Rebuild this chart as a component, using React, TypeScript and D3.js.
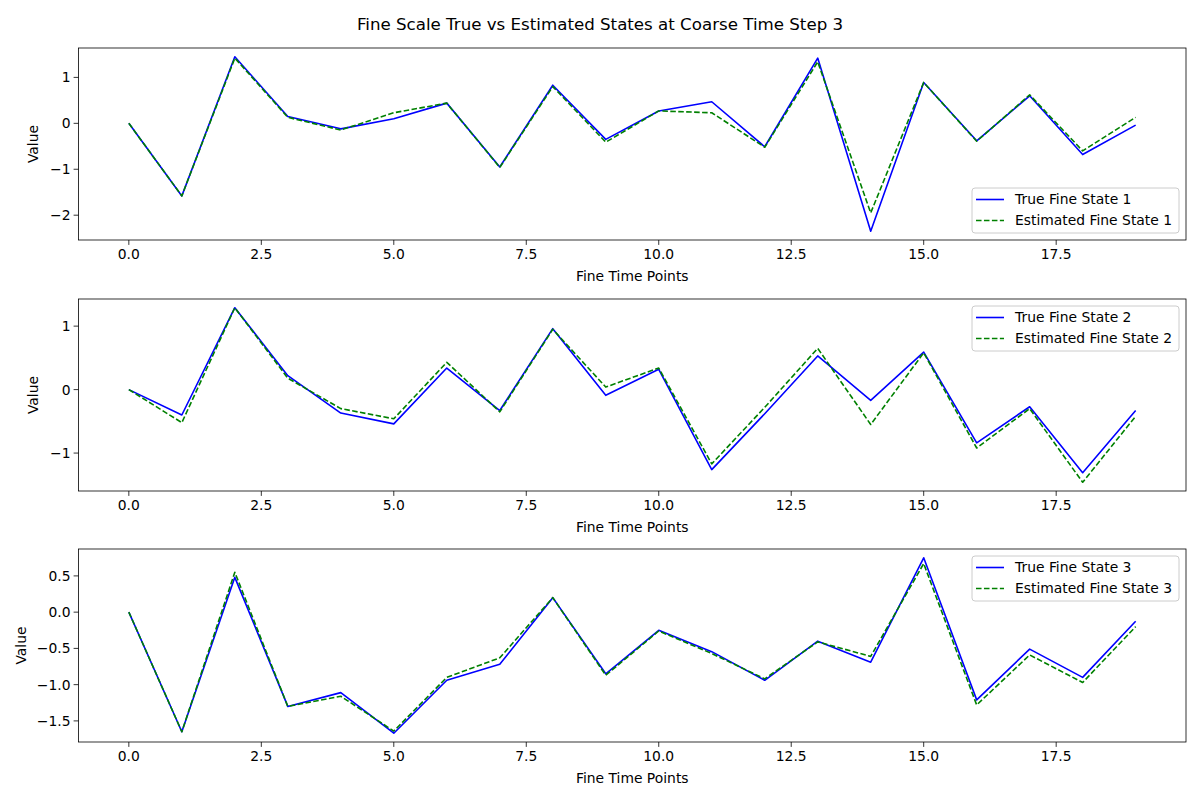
import React from "react";
import * as d3 from "d3";

const timePoints = d3.range(0, 20);

const true1 = [0, -1.58, 1.45, 0.15, -0.12, 0.10, 0.44, -0.95, 0.83, -0.35, 0.27, 0.47, -0.51, 1.42, -2.35, 0.89, -0.38, 0.60, -0.68, -0.04];
const est1 = [0, -1.58, 1.42, 0.13, -0.145, 0.23, 0.44, -0.96, 0.80, -0.41, 0.27, 0.23, -0.52, 1.34, -1.95, 0.89, -0.39, 0.62, -0.60, 0.13];

const true2 = [0, -0.40, 1.29, 0.22, -0.37, -0.54, 0.34, -0.33, 0.96, -0.09, 0.32, -1.26, -0.38, 0.53, -0.17, 0.59, -0.84, -0.27, -1.31, -0.33];
const est2 = [0, -0.52, 1.29, 0.18, -0.30, -0.46, 0.43, -0.35, 0.95, 0.04, 0.34, -1.17, -0.28, 0.65, -0.55, 0.58, -0.92, -0.30, -1.46, -0.42];

const true3 = [0, -1.65, 0.48, -1.30, -1.11, -1.67, -0.94, -0.72, 0.20, -0.85, -0.25, -0.545, -0.94, -0.40, -0.69, 0.75, -1.21, -0.51, -0.90, -0.125];
const est3 = [0, -1.65, 0.55, -1.30, -1.16, -1.64, -0.90, -0.63, 0.20, -0.87, -0.26, -0.57, -0.92, -0.41, -0.61, 0.67, -1.28, -0.59, -0.97, -0.20];

const xTicks = [0, 2.5, 5, 7.5, 10, 12.5, 15, 17.5];
const yTicks1 = [-2, -1, 0, 1];
const yTicks2 = [-1, 0, 1];
const yTicks3 = [-1.5, -1.0, -0.5, 0.0, 0.5];

const title = "Fine Scale True vs Estimated States at Coarse Time Step 3";

const panels = [
  { tr: true1, es: est1, yTicks: yTicks1, fmt: (v: number) => d3.format("d")(v), top: 48, bottom: 240, legend: "lower", n: 1 },
  { tr: true2, es: est2, yTicks: yTicks2, fmt: (v: number) => d3.format("d")(v), top: 299, bottom: 491, legend: "upper", n: 2 },
  { tr: true3, es: est3, yTicks: yTicks3, fmt: (v: number) => d3.format(".1f")(v), top: 549, bottom: 742, legend: "upper", n: 3 },
];

const FONT = "DejaVu Sans, sans-serif";
const FS = 13.89;
const LEFT = 78.5;
const RIGHT = 1186;

function fmtMinus(s: string) {
  return s.replace("-", "\u2212");
}

function Panel({ p }: { p: any }) {
  const all = [...p.tr, ...p.es];
  const mn = d3.min(all) as number;
  const mx = d3.max(all) as number;
  const pad = (mx - mn) * 0.05;
  const x = d3.scaleLinear().domain([-0.95, 19.95]).range([LEFT, RIGHT]);
  const y = d3.scaleLinear().domain([mn - pad, mx + pad]).range([p.bottom, p.top]);
  const line = d3.line<number>().x((_, i) => x(timePoints[i])).y((d) => y(d));
  const lgW = 207;
  const lgH = 45;
  const lgX = RIGHT - 8 - lgW + 1;
  const lgY = p.legend === "lower" ? p.bottom - 7 - lgH : p.top + 7;
  return (
    <g>
      <defs>
        <clipPath id={`clip${p.n}`}>
          <rect x={LEFT} y={p.top} width={RIGHT - LEFT} height={p.bottom - p.top} />
        </clipPath>
      </defs>
      <g clipPath={`url(#clip${p.n})`}>
        <path d={line(p.tr) || ""} fill="none" stroke="#0000ff" strokeWidth={1.6} strokeLinejoin="round" />
        <path d={line(p.es) || ""} fill="none" stroke="#008000" strokeWidth={1.6} strokeDasharray="5.55,2.4" strokeLinejoin="round" />
      </g>
      <rect x={LEFT} y={p.top} width={RIGHT - LEFT} height={p.bottom - p.top} fill="none" stroke="#000" strokeWidth={0.8} />
      {xTicks.map((t) => (
        <g key={`x${t}`}>
          <line x1={x(t)} x2={x(t)} y1={p.bottom} y2={p.bottom + 4.9} stroke="#000" strokeWidth={0.8} />
          <text x={x(t)} y={p.bottom + 18.5} textAnchor="middle" fontSize={FS} fontFamily={FONT} fill="#000">
            {d3.format(".1f")(t)}
          </text>
        </g>
      ))}
      {p.yTicks.map((t: number) => (
        <g key={`y${t}`}>
          <line x1={LEFT - 4.9} x2={LEFT} y1={y(t)} y2={y(t)} stroke="#000" strokeWidth={0.8} />
          <text x={LEFT - 8} y={y(t) + 5} textAnchor="end" fontSize={FS} fontFamily={FONT} fill="#000">
            {fmtMinus(p.fmt(t))}
          </text>
        </g>
      ))}
      <text x={(LEFT + RIGHT) / 2} y={p.bottom + 41} textAnchor="middle" fontSize={FS} fontFamily={FONT} fill="#000">
        Fine Time Points
      </text>
      <text
        transform={`translate(${p.n === 3 ? 26 : 38},${(p.top + p.bottom) / 2}) rotate(-90)`}
        textAnchor="middle"
        fontSize={FS}
        fontFamily={FONT}
        fill="#000"
      >
        Value
      </text>
      <g>
        <rect x={lgX} y={lgY} width={lgW} height={lgH} rx={3} fill="#fff" fillOpacity={0.8} stroke="#cccccc" strokeWidth={1} />
        <line x1={lgX + 4} x2={lgX + 32} y1={lgY + 11.5} y2={lgY + 11.5} stroke="#0000ff" strokeWidth={1.6} />
        <text x={lgX + 43} y={lgY + 16.3} fontSize={FS} fontFamily={FONT} fill="#000">
          {`True Fine State ${p.n}`}
        </text>
        <line x1={lgX + 4} x2={lgX + 32} y1={lgY + 32.5} y2={lgY + 32.5} stroke="#008000" strokeWidth={1.6} strokeDasharray="5.55,2.4" />
        <text x={lgX + 43} y={lgY + 37.3} fontSize={FS} fontFamily={FONT} fill="#000">
          {`Estimated Fine State ${p.n}`}
        </text>
      </g>
    </g>
  );
}

export default function App() {
  return (
    <svg width={1200} height={800} style={{ position: "absolute", left: 0, top: 0, background: "#fff" }}>
      <rect x={0} y={0} width={1200} height={800} fill="#fff" />
      <text x={600} y={30} textAnchor="middle" fontSize={16.67} fontFamily={FONT} fill="#000">
        {title}
      </text>
      {panels.map((p) => (
        <Panel key={p.n} p={p} />
      ))}
    </svg>
  );
}
